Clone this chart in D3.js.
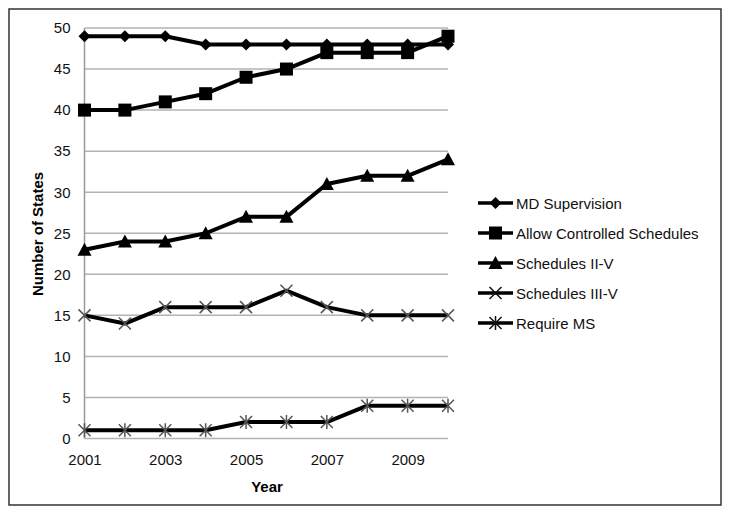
<!DOCTYPE html>
<html><head><meta charset="utf-8">
<script src="https://cdn.jsdelivr.net/npm/d3@7"></script>
<style>body{margin:0;background:#fff}</style>
</head><body>
<svg id="c" width="731" height="516"></svg>
<script>
const years = [2001,2002,2003,2004,2005,2006,2007,2008,2009,2010];
const xTickYears = [2001,2003,2005,2007,2009];
const yTicks = [0,5,10,15,20,25,30,35,40,45,50];
const seriesNames = ["MD Supervision","Allow Controlled Schedules","Schedules II-V","Schedules III-V","Require MS"];
const mdSupervision = [49,49,49,48,48,48,48,48,48,48];
const allowControlled = [40,40,41,42,44,45,47,47,47,49];
const schedII_V = [23,24,24,25,27,27,31,32,32,34];
const schedIII_V = [15,14,16,16,16,18,16,15,15,15];
const requireMS = [1,1,1,1,2,2,2,4,4,4];
const seriesValues = [mdSupervision, allowControlled, schedII_V, schedIII_V, requireMS];
const markers = ["diamond","square","triangle","x","asterisk"];

const svg = d3.select("#c");
const font = "'Liberation Sans', Arial, sans-serif";
// outer frame
svg.append("rect").attr("x",9).attr("y",9).attr("width",712).attr("height",496)
  .attr("fill","none").attr("stroke","#333").attr("stroke-width",1.5);

const x = d3.scaleLinear().domain([2001,2010]).range([84.5,448]);
const y = d3.scaleLinear().domain([0,50]).range([438.5,28]);

// gridlines
svg.append("g").selectAll("line").data(yTicks).join("line")
  .attr("x1",x(2001)).attr("x2",x(2010)).attr("y1",d=>y(d)).attr("y2",d=>y(d))
  .attr("stroke","#b3b3b3").attr("stroke-width",1.5);
// y axis line
svg.append("line").attr("x1",x(2001)).attr("x2",x(2001)).attr("y1",y(0)).attr("y2",y(50))
  .attr("stroke","#999").attr("stroke-width",1.5);

// axis labels via d3 axes
const yAxis = svg.append("g").attr("transform",`translate(${x(2001)},0)`)
  .call(d3.axisLeft(y).tickValues(yTicks).tickSize(0).tickPadding(14));
yAxis.select(".domain").remove();
yAxis.selectAll("text").attr("font-family",font).attr("font-size",15).attr("fill","#111");
const xAxis = svg.append("g").attr("transform",`translate(0,${y(0)})`)
  .call(d3.axisBottom(x).tickValues(xTickYears).tickFormat(d3.format("d")).tickSize(0).tickPadding(16));
xAxis.select(".domain").remove();
xAxis.selectAll("text").attr("font-family",font).attr("font-size",15).attr("fill","#111");

svg.append("text").attr("x",267).attr("y",492).attr("text-anchor","middle")
  .attr("font-family",font).attr("font-size",15).attr("font-weight","bold").text("Year");
svg.append("text").attr("transform","translate(43,234) rotate(-90)").attr("text-anchor","middle")
  .attr("font-family",font).attr("font-size",15).attr("font-weight","bold").text("Number of States");

function drawMarker(g, type, cx, cy, legend) {
  const grayC = legend ? "#111" : "#555";
  if (type==="diamond") {
    g.append("path").attr("d",`M${cx},${cy-6}L${cx+6},${cy}L${cx},${cy+6}L${cx-6},${cy}Z`).attr("fill","#000");
  } else if (type==="square") {
    g.append("rect").attr("x",cx-6.5).attr("y",cy-6.5).attr("width",13).attr("height",13).attr("fill","#000");
  } else if (type==="triangle") {
    g.append("path").attr("d",`M${cx},${cy-7}L${cx+7},${cy+6}L${cx-7},${cy+6}Z`).attr("fill","#000");
  } else if (type==="x") {
    const s=6;
    g.append("path").attr("d",`M${cx-s},${cy-s}L${cx+s},${cy+s}M${cx-s},${cy+s}L${cx+s},${cy-s}`)
      .attr("stroke",grayC).attr("stroke-width",1.5);
  } else if (type==="asterisk") {
    const s=6;
    g.append("path").attr("d",`M${cx-s},${cy-s}L${cx+s},${cy+s}M${cx-s},${cy+s}L${cx+s},${cy-s}M${cx},${cy-s-1}L${cx},${cy+s+1}`)
      .attr("stroke",grayC).attr("stroke-width",1.5);
  }
}

const line = d3.line().x((d,i)=>x(years[i])).y(d=>y(d));
seriesValues.forEach((vals,si)=>{
  const g = svg.append("g");
  g.append("path").datum(vals).attr("d",line).attr("fill","none")
    .attr("stroke","#000").attr("stroke-width",4).attr("stroke-linejoin","round");
  vals.forEach((v,i)=>drawMarker(g, markers[si], x(years[i]), y(v), false));
});

// legend
const legY = [203,233,263,293,323];
seriesNames.forEach((name,i)=>{
  const g = svg.append("g");
  g.append("line").attr("x1",478).attr("x2",513).attr("y1",legY[i]).attr("y2",legY[i])
    .attr("stroke","#000").attr("stroke-width",3.5);
  drawMarker(g, markers[i], 495.5, legY[i], true);
  g.append("text").attr("x",516).attr("y",legY[i]+5.5).attr("font-family",font).attr("font-size",15)
    .attr("fill","#111").text(name);
});
</script>
</body></html>
